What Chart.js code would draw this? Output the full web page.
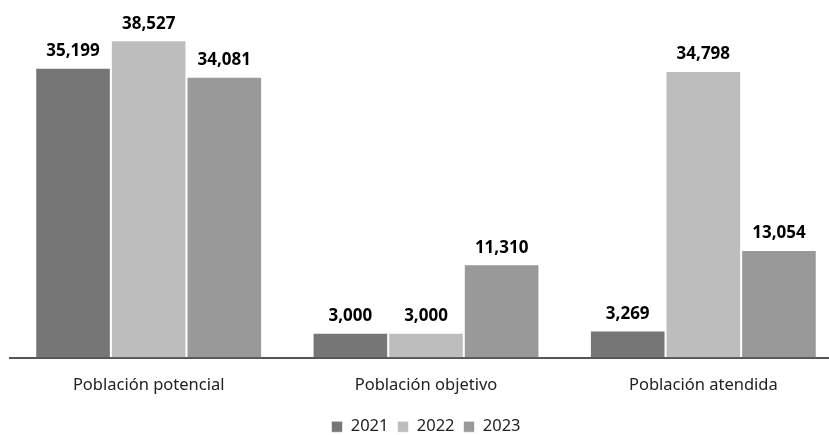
<!DOCTYPE html>
<html>
<head>
<meta charset="utf-8">
<script src="https://cdn.jsdelivr.net/npm/chart.js@4"></script>
<style>
  html, body { margin: 0; padding: 0; background: #fff; overflow: hidden; }
  #wrap { width: 852px; height: 445px; }
</style>
</head>
<body>
<div id="wrap"><canvas id="myBarChart" width="852" height="445"></canvas></div>
<script>
// Categorías y valores por año
const categories = ['Población potencial', 'Población objetivo', 'Población atendida'];
const years = ['2021', '2022', '2023'];
const values2021 = [35199, 3000, 3269];
const values2022 = [38527, 3000, 34798];
const values2023 = [34081, 11310, 13054];
const colors = ['#767676', '#bdbdbd', '#999999'];

// Plugin simple para poner el valor encima de cada barra
const valueLabels = {
  id: 'valueLabels',
  afterDatasetsDraw(chart) {
    const ctx = chart.ctx;
    ctx.save();
    ctx.font = 'bold 17px "Noto Sans"';
    ctx.fillStyle = '#000';
    ctx.textAlign = 'center';
    ctx.textBaseline = 'bottom';
    chart.data.datasets.forEach((ds, i) => {
      chart.getDatasetMeta(i).data.forEach((bar, j) => {
        ctx.fillText(ds.data[j].toLocaleString('en-US'), bar.x, bar.y - 8);
      });
    });
    ctx.restore();
  }
};

const ctxBar = document.getElementById('myBarChart').getContext('2d');

const barChart = new Chart(ctxBar, {
  type: 'bar',
  data: {
    labels: categories,
    datasets: [
      { label: years[0], data: values2021, backgroundColor: colors[0] },
      { label: years[1], data: values2022, backgroundColor: colors[1] },
      { label: years[2], data: values2023, backgroundColor: colors[2] }
    ].map(d => Object.assign(d, {
      borderColor: 'rgba(255,255,255,0.6)',
      borderWidth: 1,
      categoryPercentage: 0.818,
      barPercentage: 1
    }))
  },
  options: {
    responsive: false,
    animation: false,
    layout: { padding: { left: 10, right: 10, top: 10, bottom: 0 } },
    scales: {
      x: {
        grid: { display: false },
        border: { display: true, color: '#555', width: 2 },
        ticks: { color: '#222', font: { family: '"Noto Sans"', size: 16.5 }, padding: 10 },
        // título vacío, solo para dejar espacio antes de la leyenda
        title: { display: true, text: '', font: { size: 1 }, padding: { top: 1, bottom: 2 } }
      },
      y: {
        display: false,
        min: 0,
        max: 42200
      }
    },
    plugins: {
      legend: {
        position: 'bottom',
        labels: {
          boxWidth: 11,
          boxHeight: 11,
          padding: 9,
          color: '#222',
          font: { family: '"Noto Sans"', size: 16.5 }
        }
      },
      tooltip: { enabled: false }
    }
  },
  plugins: [valueLabels]
});
</script>
</body>
</html>
